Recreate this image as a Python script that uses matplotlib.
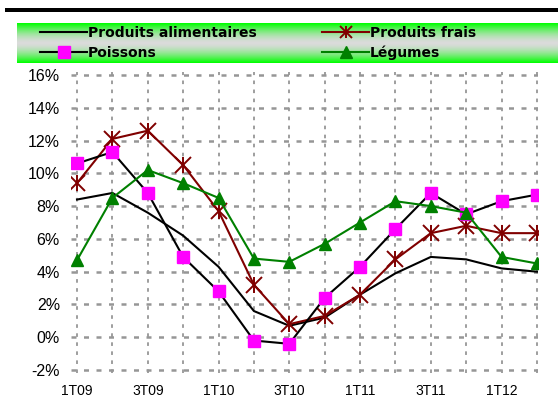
import matplotlib
matplotlib.use("Agg")
import matplotlib.pyplot as plt
import numpy as np
from matplotlib.lines import Line2D
from matplotlib.patches import Rectangle
from matplotlib.legend_handler import HandlerTuple

plt.rcParams["font.family"] = ["Liberation Sans", "DejaVu Sans"]

quarters = ["1T09", "2T09", "3T09", "4T09", "1T10", "2T10", "3T10",
            "4T10", "1T11", "2T11", "3T11", "4T11", "1T12", "2T12"]
alimentaires = [8.4, 8.8, 7.6, 6.2, 4.3, 1.6, 0.7, 1.2, 2.6, 3.9, 4.9, 4.75, 4.2, 4.0]
frais = [9.4, 12.1, 12.6, 10.5, 7.7, 3.2, 0.8, 1.3, 2.6, 4.75, 6.35, 6.8, 6.35, 6.35]
poissons = [10.6, 11.3, 8.8, 4.9, 2.8, -0.2, -0.4, 2.4, 4.3, 6.6, 8.8, 7.5, 8.3, 8.7]
legumes = [4.7, 8.5, 10.2, 9.4, 8.5, 4.8, 4.6, 5.7, 7.0, 8.3, 8.0, 7.6, 4.9, 4.5]
y_ticks = [-2, 0, 2, 4, 6, 8, 10, 12, 14, 16]

W, H = 558, 418
fig = plt.figure(figsize=(W / 100, H / 100), dpi=100)

# thick black bar at the top
fig.add_artist(Rectangle((5 / W, 1 - 12 / H), 553 / W, 4 / H,
                         transform=fig.transFigure, color="black", lw=0))

# legend band with green / grey gradient
lax = fig.add_axes([17 / W, 1 - 63 / H, 541 / W, 40 / H])
t = np.linspace(0, 1, 64)
mix = np.abs(t - 0.5) * 2
mix = mix ** 1.6
top = np.array([0.0, 1.0, 0.0])
mid = np.array([0.86, 0.86, 0.86])
grad = (mid[None, :] * (1 - mix[:, None]) + top[None, :] * mix[:, None])
lax.imshow(grad[:, None, :], aspect="auto", extent=[0, 1, 0, 1])
lax.set_xlim(0, 1)
lax.set_ylim(0, 1)
lax.axis("off")

ax = fig.add_axes([71 / W, 1 - 373 / H, 467 / W, 301 / H])
x = np.arange(len(quarters))

ax.plot(x, alimentaires, color="black", lw=1.5)
ax.plot(x, frais, color="#800000", lw=1.5, marker="x", ms=11, mew=1.4)
ax.plot(x, frais, color="#800000", lw=0, marker="|", ms=11, mew=1.4)
ax.plot(x, poissons, color="black", lw=1.5, marker="s", ms=8.5,
        mfc="#ff00ff", mec="#ff00ff")
ax.plot(x, legumes, color="#008000", lw=1.5, marker="^", ms=8.5,
        mfc="#008000", mec="#008000")

ax.set_xlim(-0.17, 13.03)
ax.set_ylim(-2.18, 16.18)
ax.set_yticks(y_ticks)
ax.set_yticklabels([f"{v}%" for v in y_ticks], fontsize=11.5)
ax.set_xticks(x[::2])
ax.set_xticklabels(quarters[::2], fontsize=10)
ax.tick_params(length=0, pad=8)
for s in ax.spines.values():
    s.set_visible(False)
ax.set_axisbelow(True)
for xv in x:
    ax.axvline(xv, color="#969696", lw=1.3, ls=(0, (2, 3)), zorder=0)
for yv in y_ticks:
    ax.axhline(yv, color="#969696", lw=1.8, ls=(0, (2, 3)), zorder=0)

h_alim = Line2D([], [], color="black", lw=1.5)
h_frais = (Line2D([], [], color="#800000", lw=1.5, marker="x", ms=9, mew=1.4),
           Line2D([], [], color="#800000", lw=0, marker="|", ms=9, mew=1.4))
h_pois = Line2D([], [], color="black", lw=1.5, marker="s", ms=8,
                mfc="#ff00ff", mec="#ff00ff")
h_leg = Line2D([], [], color="#008000", lw=1.5, marker="^", ms=8,
               mfc="#008000", mec="#008000")
lax.legend([h_alim, h_pois, h_frais, h_leg],
           ["Produits alimentaires", "Poissons", "Produits frais", "Légumes"],
           handler_map={tuple: HandlerTuple(ndivide=1, pad=0)},
           ncol=2, loc="center left", bbox_to_anchor=(0.0425, 0.5),
           frameon=False, handlelength=3.4, handletextpad=0.05,
           columnspacing=4.7, labelspacing=0.43, borderpad=0,
           borderaxespad=0,
           prop={"family": "DejaVu Sans", "weight": "bold", "size": 10})

fig.savefig("out.png", dpi=100)
